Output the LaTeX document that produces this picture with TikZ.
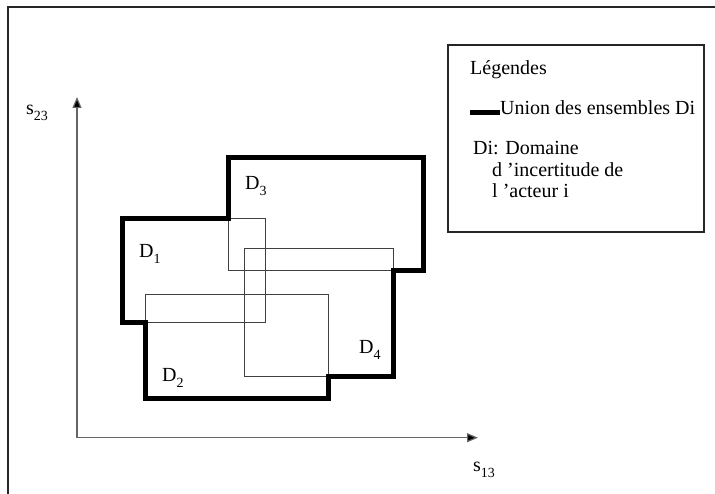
\documentclass[tikz,border=0pt]{standalone}
\usepackage{fontspec}
\setmainfont{Liberation Serif}
\usetikzlibrary{arrows.meta}
\newcommand{\lowsub}[1]{\raisebox{-0.3em}{\fontsize{14pt}{14pt}\selectfont #1}}
\begin{document}
\begin{tikzpicture}[x=1pt,y=-1pt,
  txt/.style={inner sep=0pt,anchor=base west,font=\fontsize{20pt}{24pt}\selectfont},
  thinbox/.style={draw=black!75,line width=1pt},
  unionline/.style={draw=black,line width=5pt,line join=miter,line cap=rect},
  axisline/.style={draw=black!60,line width=1.2pt,-{Triangle[length=11pt,width=9pt,fill=black]}},
  frameline/.style={draw=black!85,line width=1.2pt}]
\useasboundingbox (0,0) rectangle (715,494);
% outer frame (top and left)
\coordinate (fa) at (8,494);
\coordinate (fb) at (8,7);
\coordinate (fc) at (715,7);
\draw[frameline] (fa) -- (fb) -- (fc);
% axes
\coordinate (O) at (77,437.7);
\coordinate (Y) at (77,97);
\coordinate (X) at (478,437.7);
\draw[axisline] (O) -- (Y);
\draw[axisline] (O) -- (X);
\node[txt] (s23) at (26,115) {s\lowsub{23}};
\node[txt] (s13) at (473,471.5) {s\lowsub{13}};
% thin rectangles (domains)
\draw[thinbox] (122,219) rectangle (265,323);   % D1
\draw[thinbox] (145,294.5) rectangle (328,398); % D2
\draw[thinbox] (228,158) rectangle (423,270.5); % D3
\draw[thinbox] (244,249) rectangle (393,376.5); % D4
% union outline
\draw[unionline] (122,219) -- (228,219) -- (228,158) -- (423,158) -- (423,270.5)
  -- (393,270.5) -- (393,376.5) -- (328,376.5) -- (328,398) -- (145,398)
  -- (145,323) -- (122,323) -- cycle;
% labels
\node[txt] (d1) at (139,258) {D\lowsub{1}};
\node[txt] (d2) at (162,381.5) {D\lowsub{2}};
\node[txt] (d3) at (245,190) {D\lowsub{3}};
\node[txt] (d4) at (359,353) {D\lowsub{4}};
% legend
\draw[draw=black!85,line width=1.2pt] (448,45) rectangle (704,232);
\node[txt] (leg) at (470,75) {Légendes};
\coordinate (la) at (470,112.5);
\coordinate (lb) at (500,112.5);
\draw[draw=black,line width=5pt] (la) -- (lb);
\node[txt] (uni) at (500,115) {Union des ensembles Di};
\node[txt] (di1) at (473,155) {Di: Domaine};
\node[txt] (di2) at (492,177) {d ’incertitude de};
\node[txt] (di3) at (492,198) {l ’acteur i};
\end{tikzpicture}
\end{document}
